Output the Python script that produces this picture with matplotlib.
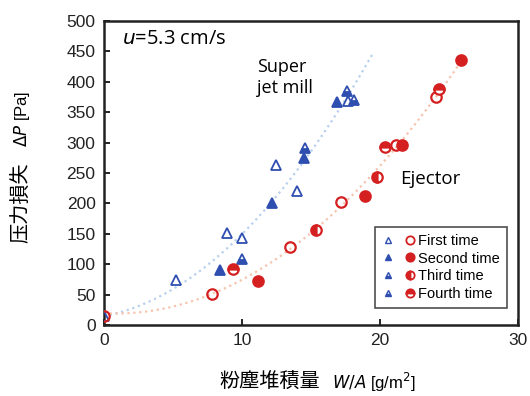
import numpy as np
import matplotlib
matplotlib.use("Agg")
import matplotlib.pyplot as plt
from matplotlib.lines import Line2D
from matplotlib.legend_handler import HandlerTuple

plt.rcParams['font.family'] = ['Liberation Sans', 'DejaVu Sans']

# Super jet mill (blue triangles)
sj_first_x = [0.0, 5.2, 8.9, 10.0, 12.5, 14.0, 17.7]
sj_first_y = [15, 74, 151, 143, 264, 220, 369]
sj_second_x = [8.4, 12.2, 14.5, 16.9]
sj_second_y = [90, 200, 274, 367]
sj_third_x = [10.0, 14.6, 17.6]
sj_third_y = [108, 292, 385]
sj_fourth_x = [18.1]
sj_fourth_y = [370]

# Ejector (red circles)
ej_first_x = [0.0, 7.8, 13.5, 17.2, 21.2, 24.1]
ej_first_y = [15, 51, 128, 202, 296, 375]
ej_second_x = [11.2, 18.9, 21.6, 25.9]
ej_second_y = [72, 213, 296, 436]
ej_third_x = [15.4, 19.8]
ej_third_y = [157, 244]
ej_fourth_x = [9.35, 20.4, 24.3]
ej_fourth_y = [93, 293, 388]

labels = ['First time', 'Second time', 'Third time', 'Fourth time']
xticks = [0, 10, 20, 30]
yticks = list(range(0, 501, 50))

blue = '#2f4fb0'
red = '#d42020'

fig = plt.figure(figsize=(5.3, 3.96), dpi=100)
ax = fig.add_axes([0.196, 0.179, 0.781, 0.768])

# trend curves (quadratic fits)
sjx = np.array(sj_first_x + sj_second_x + sj_third_x + sj_fourth_x)
sjy = np.array(sj_first_y + sj_second_y + sj_third_y + sj_fourth_y)
ejx = np.array(ej_first_x + ej_second_x + ej_third_x + ej_fourth_x)
ejy = np.array(ej_first_y + ej_second_y + ej_third_y + ej_fourth_y)
ps = np.polyfit(sjx, sjy, 2)
pe = np.polyfit(ejx, ejy, 2)
xs = np.linspace(0, 19.5, 200)
xe = np.linspace(0, 26, 200)
ax.plot(xs, np.polyval(ps, xs), ':', color='#b8d0ee', lw=1.6, zorder=1)
ax.plot(xe, np.polyval(pe, xe), ':', color='#f6c4ae', lw=1.6, zorder=1)

tri_styles = [dict(fillstyle='none'), dict(fillstyle='full'),
              dict(fillstyle='bottom'), dict(fillstyle='bottom')]
cir_styles = [dict(fillstyle='none'), dict(fillstyle='full'),
              dict(fillstyle='left'), dict(fillstyle='top')]

sj_sets = [(sj_first_x, sj_first_y), (sj_second_x, sj_second_y),
           (sj_third_x, sj_third_y), (sj_fourth_x, sj_fourth_y)]
ej_sets = [(ej_first_x, ej_first_y), (ej_second_x, ej_second_y),
           (ej_third_x, ej_third_y), (ej_fourth_x, ej_fourth_y)]

handles = []
for i in range(4):
    ax.plot(*sj_sets[i], linestyle='none', marker='^', ms=6.5, color=blue,
            mec=blue, mew=1.3, markerfacecoloralt='white', zorder=3, **tri_styles[i])
    ax.plot(*ej_sets[i], linestyle='none', marker='o', ms=7.5, color=red,
            mec=red, mew=1.6, markerfacecoloralt='white', zorder=3, **cir_styles[i])
    h1 = Line2D([], [], linestyle='none', marker='^', ms=5, color=blue, mec=blue,
                mew=1, markerfacecoloralt='white', **tri_styles[i])
    h2 = Line2D([], [], linestyle='none', marker='o', ms=6, color=red, mec=red,
                mew=1.3, markerfacecoloralt='white', **cir_styles[i])
    handles.append((h1, h2))

leg = ax.legend(handles, labels, handler_map={tuple: HandlerTuple(ndivide=None, pad=0.8)},
                loc='lower right', bbox_to_anchor=(0.973, 0.056), fontsize=10.5,
                frameon=True, fancybox=False, edgecolor='#222222', handlelength=2.2,
                handletextpad=0.2, labelspacing=0.25, borderpad=0.5, borderaxespad=0)
leg.get_frame().set_linewidth(1.2)

ax.set_xlim(0, 30)
ax.set_ylim(0, 500)
ax.set_xticks(xticks)
ax.set_yticks(yticks)
ax.tick_params(direction='in', length=4, width=1.2, labelsize=12.5, labelcolor='#222222', pad=6)
for s in ax.spines.values():
    s.set_linewidth(1.8)
    s.set_color('#222222')

ax.text(1.3, 470, r'$\it{u}$=5.3 cm/s', fontsize=14.5, ha='left', va='center',
        family=['Open Sans', 'DejaVu Sans'])
ax.text(11.1, 439, 'Super\njet mill', fontsize=13, ha='left', va='top',
        family=['Open Sans', 'DejaVu Sans'], linespacing=1.2)
ax.text(21.5, 240, 'Ejector', fontsize=13.5, ha='left', va='center',
        family=['Open Sans', 'DejaVu Sans'])

cjk = ['Noto Sans CJK JP', 'DejaVu Sans']
fig.text(0.04, 0.487, '压力損失', rotation=90, fontsize=14.5, family=cjk, ha='center', va='center')
fig.text(0.042, 0.70, r'$\Delta \it{P}$ [Pa]', rotation=90, fontsize=12, ha='center', va='center',
         family=['Liberation Sans', 'DejaVu Sans'])
fig.text(0.508, 0.035, '粉塵堆積量', fontsize=14.5, family=cjk, ha='center', va='center')
fig.text(0.627, 0.035, r'$\it{W/A}$ [g/m$^2$]', fontsize=12, ha='left', va='center',
         family=['Liberation Sans', 'DejaVu Sans'])

fig.savefig('out.png', dpi=100)
